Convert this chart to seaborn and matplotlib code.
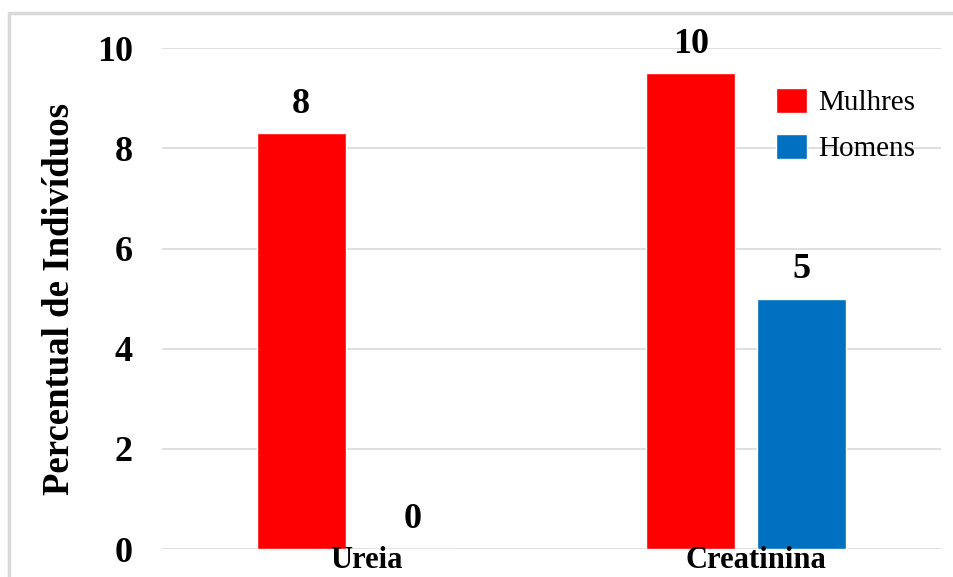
import matplotlib
matplotlib.use("Agg")
import matplotlib.pyplot as plt
import matplotlib.transforms as mtransforms
from matplotlib.patches import Rectangle
import pandas as pd
import seaborn as sns

# Percent of individuals with altered values, by exam and sex
categories = ["Ureia", "Creatinina"]
groups = ["Mulhres", "Homens"]
mulheres = [8.3, 9.5]
homens = [0.0, 5.0]
yticks = [0, 2, 4, 6, 8, 10]
ylabel = "Percentual de Indivíduos"
colors = {"Mulhres": "#FF0000", "Homens": "#0070C0"}

df = pd.DataFrame({
    "exame": categories * 2,
    "sexo": [groups[0]] * len(categories) + [groups[1]] * len(categories),
    "valor": mulheres + homens,
})

sns.set_theme(style="white")
plt.rcParams["font.family"] = ["Liberation Serif", "DejaVu Serif"]
plt.rcParams.update({"text.color": "black", "axes.labelcolor": "black",
                     "xtick.color": "black", "ytick.color": "black"})

fig = plt.figure(figsize=(9.54, 5.77), dpi=100)
ax = fig.add_axes([162 / 954, 1 - 549 / 577, (941 - 162) / 954, (549 - 48.3) / 577])

sns.barplot(data=df, x="exame", y="valor", hue="sexo", order=categories,
            hue_order=groups, palette=colors, width=0.57, gap=0.2,
            saturation=1, ax=ax, zorder=3)

ax.set_ylim(0, 10)
ax.set_xlim(-0.5, 1.5)
ax.set_yticks(yticks)
ax.yaxis.grid(True, color="#d9d9d9", linewidth=1.2, zorder=0)
ax.xaxis.grid(False)
for s in ax.spines.values():
    s.set_visible(False)
ax.tick_params(axis="both", length=0)
ax.tick_params(axis="y", pad=21, labelsize=26, labelcolor="black")
ax.set_yticklabels([str(t) for t in yticks], fontweight="bold")
ax.set_xlabel("")
ax.set_xticklabels([])
ax.set_ylabel(ylabel, fontsize=26.5, fontweight="bold", labelpad=14, color="black")

# category names sit on the baseline, drawn above the bars
shift = mtransforms.ScaledTranslation(10 / 100, -19 / 100, fig.dpi_scale_trans)
trans = ax.get_xaxis_transform() + shift
for i, cat in enumerate(categories):
    ax.text(i, 0, cat, transform=trans, ha="center", va="baseline",
            fontsize=22, fontweight="bold", color="black", zorder=5,
            clip_on=False)

for cont in ax.containers:
    ax.bar_label(cont, labels=[f"{v:.0f}" for v in cont.datavalues],
                 padding=9, fontsize=26, fontweight="bold", color="black")

handles, labels = ax.get_legend_handles_labels()
leg = ax.legend(handles, labels, loc="upper left",
                bbox_to_anchor=(776 / 954, 1 - 88 / 577), bbox_transform=fig.transFigure,
                frameon=False, fontsize=21, handlelength=1.07, handleheight=0.93,
                handletextpad=0.38, labelspacing=0.6, borderpad=0, borderaxespad=0)
for t in leg.get_texts():
    t.set_color("black")

# light frame around the chart
fig.patches.append(Rectangle((9 / 954, -0.1), 1.2, 1 - 13 / 577 + 0.1,
                             transform=fig.transFigure, fill=False,
                             edgecolor="#d9d9d9", linewidth=2.5, zorder=0))

fig.savefig("out.png", dpi=100)
